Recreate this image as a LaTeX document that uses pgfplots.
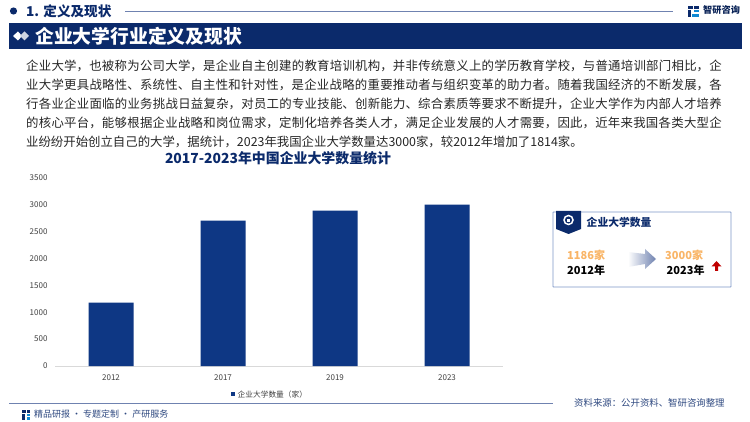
\documentclass[border=0pt]{standalone}
\usepackage{pgfplots}
\pgfplotsset{compat=1.18}
\usepackage{fontspec}
\setmainfont{Noto Sans CJK SC}
\usetikzlibrary{shapes.geometric,shadings}
\definecolor{navy}{HTML}{0B2A6B}
\definecolor{barc}{HTML}{0E3784}
\definecolor{rulec}{HTML}{6F82B0}
\definecolor{bodyc}{HTML}{262626}
\definecolor{orangec}{HTML}{F9B567}
\definecolor{boxc}{HTML}{7F97C9}
\XeTeXlinebreaklocale "zh"
\XeTeXlinebreakskip=0pt plus 2pt minus 1pt
\newcommand{\bodyline}[2]{\node[anchor=west,inner sep=0pt,text width=699pt,font=\fontsize{12.4}{14}\selectfont,text=bodyc] at (26,#1) {\parfillskip=0pt\noindent #2\par};}
\begin{document}
\begin{tikzpicture}[x=1pt,y=-1pt]
\path[use as bounding box] (0,0) rectangle (750,422);
\fill[white] (0,0) rectangle (750,422);
% top header
\fill[navy] (13.5,11) circle (3.6);
\node[anchor=west,inner sep=0pt,text=navy,font=\fontsize{13.6}{15}\selectfont\bfseries] at (26,11.5) {1. 定义及现状};
\draw[rulec,line width=0.8pt] (125,11) -- (673,11);
\fill[navy] (688,6) rectangle (693,9);
\fill[navy] (688,10) rectangle (691,17);
\fill[navy] (694,6) rectangle (699,9);
\fill[cyan!70!blue] (694,10) rectangle (699,12.5);
\fill[cyan!70!blue] (692,14) rectangle (699,17);
\node[anchor=west,inner sep=0pt,text=navy!80!black,font=\fontsize{9.2}{11}\selectfont\bfseries] at (703,10.5) {智研咨询};
% banner
\fill[navy] (9,23) rectangle (742,49);
\fill[white] (13,36) -- (18,31.5) -- (22,36) -- (18,40.5) -- cycle;
\fill[white!80!navy] (20,36) -- (24.5,31.5) -- (29,36) -- (24.5,40.5) -- cycle;
\node[anchor=west,inner sep=0pt,text=white,font=\fontsize{18.8}{21}\selectfont\bfseries] at (35,36) {企业大学行业定义及现状};
% body
\bodyline{66}{企业大学，也被称为公司大学，是企业自主创建的教育培训机构，并非传统意义上的学历教育学校，与普通培训部门相比，企}
\bodyline{85}{业大学更具战略性、系统性、自主性和针对性，是企业战略的重要推动者与组织变革的助力者。随着我国经济的不断发展，各}
\bodyline{104}{行各业企业面临的业务挑战日益复杂，对员工的专业技能、创新能力、综合素质等要求不断提升，企业大学作为内部人才培养}
\bodyline{123}{的核心平台，能够根据企业战略和岗位需求，定制化培养各类人才，满足企业发展的人才需要，因此，近年来我国各类大型企}
\node[anchor=west,inner sep=0pt,font=\fontsize{12.4}{14}\selectfont,text=bodyc] at (26,142) {业纷纷开始创立自己的大学，据统计，2023年我国企业大学数量达3000家，较2012年增加了1814家。};
% chart title
\node[inner sep=0pt,text=navy,font=\fontsize{13.9}{16}\selectfont\bfseries] at (278,158.5) {2017-2023年中国企业大学数量统计};
% chart
\begin{axis}[
  at={(55pt,-366pt)},anchor=south west,
  scale only axis,width=448pt,height=188.3pt,
  xmin=-0.5,xmax=3.5,ymin=0,ymax=3500,
  axis x line=bottom,axis y line=left,
  x axis line style={draw=gray!30,-},
  y axis line style={draw=none,-},
  xtick={0,1,2,3},xticklabels={2012,2017,2019,2023},
  ytick={0,500,1000,1500,2000,2500,3000,3500},
  major tick length=0pt,
  /pgf/number format/assume math mode=true,
  /pgf/number format/fixed,/pgf/number format/1000 sep={},
  tick label style={font=\fontsize{8}{9}\selectfont,text=black!75},
  xticklabel style={yshift=-5pt},
  yticklabel style={xshift=-4pt},
  ybar,bar width=45pt,
]
\addplot[fill=barc,draw=none,bar shift=0pt] coordinates {(0,1180)(1,2700)(2,2890)(3,3000)};
\end{axis}
% legend
\fill[barc] (231,392) rectangle (235,396);
\node[anchor=west,inner sep=0pt,font=\fontsize{7.7}{9}\selectfont,text=black!75] at (237.5,394.5) {企业大学数量（家）};
% side box
\draw[boxc,line width=0.8pt,rounded corners=0.5pt] (553,212) rectangle (731,287);
\fill[navy] (556,211) -- (581,211) -- (581,229) -- (568.5,234) -- (556,229) -- cycle;
\draw[white,line width=1.5pt] (568.5,220) circle (4.5);
\fill[white] (567,219) rectangle (570,222);
\node[anchor=west,inner sep=0pt,text=navy,font=\fontsize{10.8}{12}\selectfont\bfseries] at (586.5,222) {企业大学数量};
\node[anchor=west,inner sep=0pt,text=orangec,font=\fontsize{11}{13}\selectfont\bfseries] at (567,255) {1186家};
\node[anchor=west,inner sep=0pt,text=black,font=\fontsize{11}{13}\selectfont\bfseries] at (567,270) {2012年};
\node[anchor=west,inner sep=0pt,text=orangec,font=\fontsize{11}{13}\selectfont\bfseries] at (665,255) {3000家};
\node[anchor=west,inner sep=0pt,text=black,font=\fontsize{11}{13}\selectfont\bfseries] at (666.5,270) {2023年};
\shade[left color=white,right color=rulec] (628,252) -- (645,254) -- (645,249) -- (656,259) -- (645,269) -- (645,264) -- (628,267) -- cycle;
\fill[red!75!black] (715,271) -- (715,266.5) -- (711.5,266.5) -- (716.5,261) -- (721.5,266.5) -- (718,266.5) -- (718,271) -- cycle;
% footer
\draw[rulec,line width=0.9pt] (9,403) -- (553,403);
\fill[navy] (22,410) rectangle (26,413);
\fill[navy] (22,414) rectangle (24.5,420);
\fill[navy] (26.5,410) rectangle (29.5,413);
\fill[cyan!70!blue] (26.5,414) rectangle (29.5,416);
\fill[cyan!70!blue] (26.5,417) rectangle (29.5,420);
\node[anchor=west,inner sep=0pt,text=navy!85,font=\fontsize{9}{11}\selectfont] at (34,414.5) {精品研报 · 专题定制 · 产研服务};
\node[anchor=west,inner sep=0pt,text=navy!85,font=\fontsize{9.4}{11}\selectfont] at (574,402.5) {资料来源：公开资料、智研咨询整理};
\end{tikzpicture}
\end{document}
